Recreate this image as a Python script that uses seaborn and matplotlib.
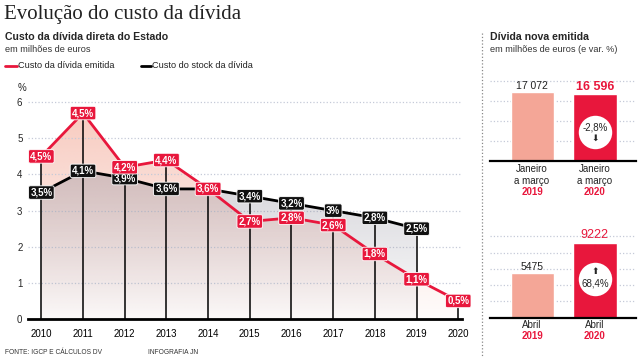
import numpy as np
import pandas as pd
import matplotlib
matplotlib.use('Agg')
import matplotlib.pyplot as plt
import seaborn as sns
from matplotlib.colors import to_rgb

# data
years = [2010, 2011, 2012, 2013, 2014, 2015, 2016, 2017, 2018, 2019, 2020]
cost_issued = [4.5, 5.7, 4.2, 4.4, 3.6, 2.7, 2.8, 2.6, 1.8, 1.1, 0.5]
cost_issued_labels = ['4,5%', '4,5%', '4,2%', '4,4%', '3,6%', '2,7%', '2,8%', '2,6%', '1,8%', '1,1%', '0,5%']
stock_years = [2010, 2011, 2012, 2013, 2014, 2015, 2016, 2017, 2018, 2019]
cost_stock = [3.5, 4.1, 3.9, 3.6, 3.6, 3.4, 3.2, 3.0, 2.8, 2.5]
cost_stock_labels = ['3,5%', '4,1%', '3,9%', '3,6%', '', '3,4%', '3,2%', '3%', '2,8%', '2,5%']

q1_periods = ['2019', '2020']
q1_values = [17072, 16596]
q1_value_labels = ['17 072', '16 596']
q1_change = '-2,8%'
apr_periods = ['2019', '2020']
apr_values = [5475, 9222]
apr_value_labels = ['5475', '9222']
apr_change = '68,4%'

RED = '#e8173c'
PINK = '#f4a697'
FIG_W, FIG_H = 640, 358

sns.set_style('white')
plt.rcParams['font.family'] = ['Liberation Sans', 'DejaVu Sans']

fig = plt.figure(figsize=(6.4, 3.58), dpi=100)


def box(l, t, r, b):
    return [l / FIG_W, 1 - b / FIG_H, (r - l) / FIG_W, (b - t) / FIG_H]


def ftext(x, y, s, **kw):
    fig.text(x / FIG_W, 1 - y / FIG_H, s, **kw)


def grad_fill(ax, x, y, color, a_top, ymax, z):
    x = np.asarray(x, float)
    y = np.asarray(y, float)
    poly = ax.fill(np.r_[x, x[::-1]], np.r_[y, np.zeros_like(y)],
                   facecolor='none', edgecolor='none')[0]
    rgba = np.zeros((200, 1, 4))
    rgba[:, :, :3] = to_rgb(color)
    rgba[:, 0, 3] = np.linspace(0.03, a_top, 200)
    im = ax.imshow(rgba, aspect='auto', origin='lower', zorder=z,
                   extent=[x.min(), x.max(), 0, ymax], interpolation='bilinear')
    im.set_clip_path(poly)


# ---------------- main line chart ----------------
ax = fig.add_axes(box(28, 95, 462, 319))
grad_fill(ax, years, cost_issued, '#f2a28e', 0.6, 6.2, 0.5)
grad_fill(ax, stock_years, cost_stock, '#8e8c9a', 0.55, 6.2, 0.6)

tops = [max(a, b) for a, b in zip(cost_issued, cost_stock + [0])]
ax.vlines(years, 0, tops, color='black', lw=1.1, zorder=2)

sns.lineplot(x=stock_years, y=cost_stock, color='black', lw=2, ax=ax, zorder=3)
sns.lineplot(x=years, y=cost_issued, color=RED, lw=2, ax=ax, zorder=4)

for xv, yv, lab in zip(stock_years, cost_stock, cost_stock_labels):
    if lab:
        ax.text(xv, yv, lab, ha='center', va='center', color='white', fontsize=7,
                fontweight='bold', zorder=5,
                bbox=dict(boxstyle='round,pad=0.18', fc='#111111', ec='white', lw=0.6))
for xv, yv, lab in zip(years, cost_issued, cost_issued_labels):
    ax.text(xv, yv, lab, ha='center', va='center', color='white', fontsize=7,
            fontweight='bold', zorder=6,
            bbox=dict(boxstyle='round,pad=0.18', fc=RED, ec='white', lw=0.6))

ax.set_xlim(2009.68, 2020.09)
ax.set_ylim(0, 6.2)
ax.set_yticks(range(0, 7))
ax.set_xticks(years)
ax.set_xticklabels([str(y) for y in years], fontsize=7)
ax.yaxis.grid(True, color='#c5cad8', ls=':', lw=0.9)
ax.set_axisbelow(True)
for s in ['top', 'right', 'left']:
    ax.spines[s].set_visible(False)
ax.spines['bottom'].set_linewidth(2)
ax.spines['bottom'].set_color('black')
ax.tick_params(axis='x', length=3, width=1, pad=4, colors='black')
ax.tick_params(axis='y', length=0, pad=4, labelsize=7)
ax.set_xlabel('')
ax.set_ylabel('')
ax.patch.set_alpha(0)
ftext(21.5, 88, '%', fontsize=7, ha='center', va='center')


# ---------------- right bar panels ----------------
def bar_panel(rect, periods, values, value_labels, ymax, px, grid, change, circ_y, up, cat_lines, cat_y):
    bx = fig.add_axes(rect)
    df = pd.DataFrame({'period': periods, 'value': values})
    sns.barplot(data=df, x='period', y='value', hue='period', palette=[PINK, RED],
                width=0.7, saturation=1, legend=False, ax=bx, zorder=2)
    bx.set_xlim(-0.68, 1.66)
    bx.set_ylim(0, ymax)
    bx.set_yticks(grid)
    bx.yaxis.grid(True, color='#c5cad8', ls=':', lw=0.9)
    bx.set_axisbelow(True)
    bx.set_xticks([])
    bx.set_yticklabels([])
    bx.tick_params(length=0)
    bx.set_xlabel('')
    bx.set_ylabel('')
    for s in ['top', 'right', 'left']:
        bx.spines[s].set_visible(False)
    bx.spines['bottom'].set_linewidth(1.6)
    bx.spines['bottom'].set_color('black')
    bx.patch.set_alpha(0)
    bx.text(0, values[0] + px * 1.5, value_labels[0], ha='center', va='bottom',
            fontsize=7.5, color='#222222')
    bx.text(1, values[1] + px * 1.5, value_labels[1], ha='center', va='bottom',
            fontsize=9, color=RED, fontweight='bold' if not up else 'normal')
    bx.scatter([1], [circ_y], s=580, color='white', zorder=4, linewidths=0)
    arrow = '\u2B06' if up else '\u2B07'
    if up:
        bx.text(1, circ_y + px * 7.5, arrow, ha='center', va='center', fontsize=6.5,
                family='DejaVu Sans', zorder=5)
        bx.text(1, circ_y - px * 4.5, change, ha='center', va='center', fontsize=7, zorder=5)
    else:
        bx.text(1, circ_y + px * 4.5, change, ha='center', va='center', fontsize=7, zorder=5)
        bx.text(1, circ_y - px * 7, arrow, ha='center', va='center', fontsize=6.5,
                family='DejaVu Sans', zorder=5)
    for i, per in enumerate(periods):
        xc = 532 + 62.4 * i
        for j, line in enumerate(cat_lines):
            ftext(xc, cat_y + 11.3 * j, line, ha='center', va='center', fontsize=7, color='#222222')
        ftext(xc, cat_y + 11.3 * len(cat_lines), per, ha='center', va='center', fontsize=7,
              color=RED, fontweight='bold')
    return bx


bar_panel(box(490, 161 - 22000 / 248.6, 636, 161), q1_periods, q1_values, q1_value_labels,
          22000, 248.6, [5000, 10000, 15000, 20000], q1_change, 7300, False,
          ['Janeiro', 'a março'], 169.5)
bar_panel(box(490, 317.7 - 11000 / 123, 636, 317.7), apr_periods, apr_values, apr_value_labels,
          11000, 123, [2000, 4000, 6000, 8000, 10000], apr_change, 4750, True,
          ['Abril'], 325)

# separator
fig.add_artist(plt.Line2D([482 / FIG_W] * 2, [1 - 33 / FIG_H, 0], color='#888888',
                          ls=':', lw=0.9))

# ---------------- texts ----------------
ftext(4, 15, 'Evolução do custo da dívida', fontsize=15, family='Liberation Serif',
      va='center', color='#222222')
ftext(5, 37, 'Custo da dívida direta do Estado', fontsize=7.6, fontweight='bold', va='center')
ftext(5, 49, 'em milhões de euros', fontsize=6.6, va='center', color='#333333')
fig.add_artist(plt.Line2D([5 / FIG_W, 17 / FIG_W], [1 - 66 / FIG_H] * 2, color=RED, lw=2))
ftext(18, 65.5, 'Custo da dívida emitida', fontsize=6.6, va='center', color='#222222')
fig.add_artist(plt.Line2D([141 / FIG_W, 151 / FIG_W], [1 - 66 / FIG_H] * 2, color='black', lw=2))
ftext(152, 65.5, 'Custo do stock da dívida', fontsize=6.6, va='center', color='#222222')

ftext(490, 36.5, 'Dívida nova emitida', fontsize=7.6, fontweight='bold', va='center')
ftext(490, 49, 'em milhões de euros (e var. %)', fontsize=6.6, va='center', color='#333333')

ftext(5, 352, 'FONTE: IGCP E CÁLCULOS DV', fontsize=4.8, va='center', color='#333333')
ftext(148, 352, 'INFOGRAFIA JN', fontsize=4.8, va='center', color='#333333')

fig.savefig('out.png', dpi=100)
